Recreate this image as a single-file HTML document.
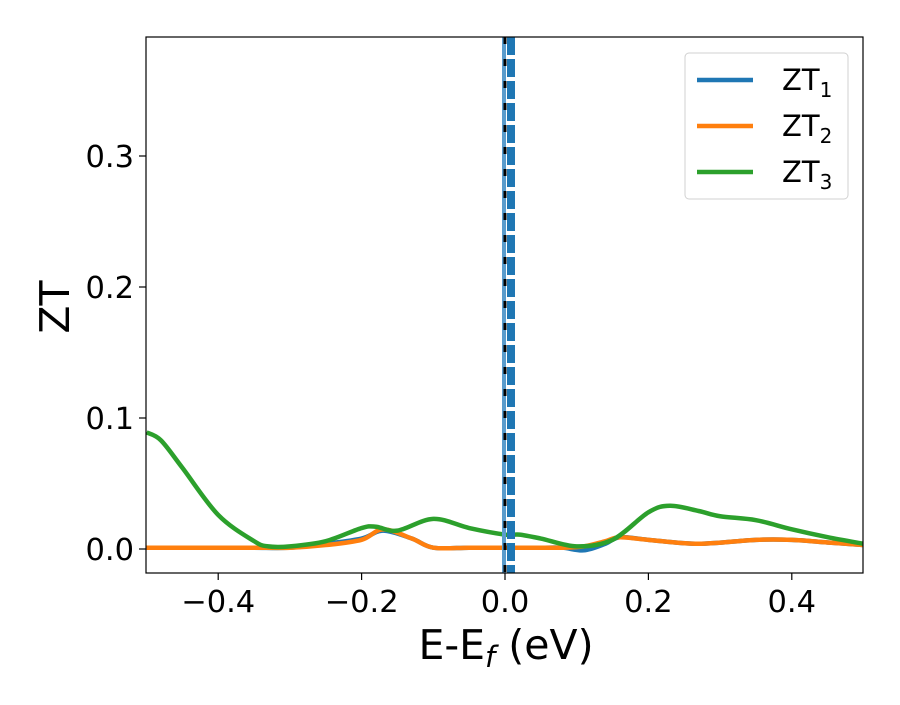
<!DOCTYPE html>
<html><head><meta charset="utf-8"><style>
body{margin:0;background:#fff}
svg text{font-family:"DejaVu Sans","Liberation Sans",sans-serif;fill:#000}
</style></head><body>
<svg width="900" height="700" xmlns="http://www.w3.org/2000/svg">
<defs><clipPath id="pc"><rect x="146" y="37" width="717" height="536"/></clipPath></defs>
<rect width="900" height="700" fill="#fff"/>
<g id="series" clip-path="url(#pc)"></g>
<g id="axes"></g>
</svg>
<script>
const xs1=[-0.5,-0.45,-0.4,-0.35,-0.3,-0.25,-0.2,-0.17,-0.13,-0.1,-0.05,0,0.05,0.08,0.11,0.14,0.16,0.2,0.27,0.35,0.4,0.45,0.5];
const zt1=[0.001,0.001,0.001,0.001,0.001,0.004,0.008,0.014,0.008,0.001,0.001,0.001,0.001,0.001,-0.001,0.004,0.009,0.007,0.004,0.007,0.007,0.005,0.003];
const zt2=[0.001,0.001,0.001,0.001,0.001,0.003,0.007,0.015,0.008,0.001,0.001,0.001,0.001,0.001,0.002,0.006,0.009,0.007,0.004,0.007,0.007,0.005,0.003];
const xs3=[-0.5,-0.48,-0.45,-0.4,-0.35,-0.33,-0.3,-0.25,-0.2,-0.18,-0.15,-0.1,-0.05,0,0.02,0.05,0.1,0.15,0.2,0.23,0.27,0.3,0.35,0.4,0.45,0.5];
const zt3=[0.089,0.083,0.062,0.026,0.006,0.002,0.002,0.006,0.016,0.017,0.014,0.023,0.016,0.011,0.011,0.008,0.002,0.007,0.028,0.033,0.029,0.025,0.022,0.015,0.009,0.004];
const xTicks=[-0.4,-0.2,0.0,0.2,0.4];
const xTickLabels=["\u22120.4","\u22120.2","0.0","0.2","0.4"];
const yTicks=[0.0,0.1,0.2,0.3];
const yTickLabels=["0.0","0.1","0.2","0.3"];
const X=v=>505+v*717, Y=v=>549-v*1310;
const NS="http://www.w3.org/2000/svg";
function mk(t,a,p){const e=document.createElementNS(NS,t);for(const k in a)e.setAttribute(k,a[k]);p.appendChild(e);return e;}
function path(xs,ys){const p=xs.map((x,i)=>[X(x),Y(ys[i])]);let d=`M${p[0][0]},${p[0][1]}`;
for(let i=0;i<p.length-1;i++){const a=p[Math.max(i-1,0)],b=p[i],c=p[i+1],e=p[Math.min(i+2,p.length-1)];
d+=`C${b[0]+(c[0]-a[0])/6},${b[1]+(c[1]-a[1])/6} ${c[0]-(e[0]-b[0])/6},${c[1]-(e[1]-b[1])/6} ${c[0]},${c[1]}`;}return d;}
const s=document.getElementById('series'),ax=document.getElementById('axes');
let l;
l=mk('path',{d:path(xs1,zt1),fill:'none',stroke:'#1f77b4','stroke-width':4.5},s);


l=mk('path',{d:path(xs1,zt2),fill:'none',stroke:'#ff7f0e','stroke-width':4.5},s);


l=mk('path',{d:path(xs3,zt3),fill:'none',stroke:'#2ca02c','stroke-width':4.5},s);


l=mk('line',{x1:X(0)-1,x2:X(0)-1,y1:37,y2:573,stroke:'#5a9ccc','stroke-width':4},s);


l=mk('line',{x1:X(0),x2:X(0),y1:37,y2:573,stroke:'#000','stroke-width':3,'stroke-dasharray':'7 15'},s);


l=mk('line',{x1:X(0)+6,x2:X(0)+6,y1:37,y2:573,stroke:'#1f77b4','stroke-width':8,'stroke-dasharray':'18 4'},s);


l=mk('rect',{x:146,y:37,width:717,height:536,fill:'none',stroke:'#000','stroke-width':1.2},ax);


xTicks.forEach((v,i)=>{mk('line',{x1:X(v),x2:X(v),y1:573,y2:580,stroke:'#000','stroke-width':1.2},ax);
const t=mk('text',{x:X(v),y:612,'font-size':30.5,'text-anchor':'middle'},ax);t.textContent=xTickLabels[i];

});
yTicks.forEach((v,i)=>{mk('line',{x1:139,x2:146,y1:Y(v),y2:Y(v),stroke:'#000','stroke-width':1.2},ax);
const t=mk('text',{x:134,y:Y(v)+11,'font-size':30.5,'text-anchor':'end'},ax);t.textContent=yTickLabels[i];

});
</script>
<svg style="position:absolute;left:0;top:0" width="900" height="700">
<text x="506" y="659" font-size="41" text-anchor="middle" font-family="DejaVu Sans,sans-serif">E-E<tspan font-style="italic" font-size="29" dy="8">f</tspan><tspan dy="-8"> (eV)</tspan></text>
<text transform="translate(69,307) rotate(-90)" font-size="41" text-anchor="middle" font-family="DejaVu Sans,sans-serif">ZT</text>
<g font-family="DejaVu Sans,sans-serif" font-size="29">
<rect x="685" y="53" width="163" height="146" rx="4" fill="#fff" stroke="#ccc" opacity="0.9"/>
<line x1="697" x2="753" y1="80" y2="80" stroke="#1f77b4" stroke-width="4.5"/>
<text x="782" y="90">ZT<tspan font-size="20" dy="7">1</tspan></text>
<line x1="697" x2="753" y1="126" y2="126" stroke="#ff7f0e" stroke-width="4.5"/>
<text x="782" y="136">ZT<tspan font-size="20" dy="7">2</tspan></text>
<line x1="697" x2="753" y1="172" y2="172" stroke="#2ca02c" stroke-width="4.5"/>
<text x="782" y="182">ZT<tspan font-size="20" dy="7">3</tspan></text>
</g>
</svg>
</body></html>
